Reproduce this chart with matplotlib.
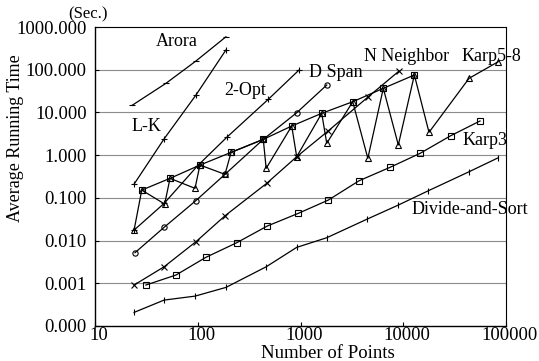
import numpy as np
import matplotlib
matplotlib.use('Agg')
import matplotlib.pyplot as plt
from matplotlib.ticker import FuncFormatter, FixedLocator, NullLocator
from matplotlib.transforms import ScaledTranslation

plt.rcParams['font.family'] = ['Liberation Serif', 'DejaVu Serif']

# data (x = number of points, y = seconds)
arora_x = [23, 49, 96, 188]
arora_y = [14.7, 48, 160, 590]

lk_x = [24, 47, 96, 188]
lk_y = [0.21, 2.4, 25.5, 290]

opt2_x = [24, 47, 100, 191, 486, 966]
opt2_y = [0.0176, 0.074, 0.57, 2.6, 20.3, 98]

dspan_x = [24.5, 47, 95.5, 184, 434, 918, 1800]
dspan_y = [0.0052, 0.0204, 0.0855, 0.355, 2.34, 9.84, 43.8]

nn_x = [24, 47, 96, 184, 469, 918, 1853, 4540, 9090]
nn_y = [0.00091, 0.00243, 0.0094, 0.038, 0.219, 0.918, 3.66, 23, 93]

# Karp5-8: upper points (joined by the smooth line) and lower points
karp_hi_x = [28.5, 53.7, 105, 211, 434, 821, 1608, 3222, 6394, 12820]
karp_hi_y = [0.152, 0.286, 0.586, 1.16, 2.34, 4.8, 9.53, 17.8, 36.7, 75.2]
karp_lo_x = [24, 47.6, 94, 184, 463, 918, 1800, 4520, 8950, 17800, 43700, 84000]
karp_lo_y = [0.0176, 0.0716, 0.167, 0.355, 0.491, 0.918, 1.89, 0.841, 1.73, 3.42, 62.9, 154]

karp3_x = [31.3, 61.4, 120, 239, 475, 952, 1866, 3710, 7430, 14560, 28970, 55850]
karp3_y = [0.00091, 0.00156, 0.00405, 0.00888, 0.0219, 0.0434, 0.0888, 0.251, 0.518, 1.10, 2.85, 6.3]

ds_x = [24, 47, 94, 188, 463, 918, 1799, 4467, 8954, 17540, 43650, 84140]
ds_y = [0.000208, 0.000404, 0.0005, 0.0008, 0.00243, 0.00693, 0.01164, 0.0319, 0.0678, 0.1466, 0.408, 0.869]

xticks = [10, 100, 1000, 10000, 100000]
yticks = [0.0001, 0.001, 0.01, 0.1, 1, 10, 100, 1000]

fig = plt.figure(figsize=(5.39, 3.61), dpi=100)
ax = fig.add_axes([0.1763, 0.097, 0.7625, 0.8282])
ax.set_xscale('log')
ax.set_yscale('log')
ax.set_xlim(10, 100000)
ax.set_ylim(0.0001, 1000)

for y in yticks[1:-1]:
    ax.axhline(y, color='#8c8c8c', lw=0.8, zorder=0)

kw = dict(color='black', lw=0.9, ms=3.8, mew=0.8, mfc='none')
ax.plot(arora_x, arora_y, marker='_', **kw)
ax.plot(lk_x, lk_y, marker='+', **kw)
ax.plot(opt2_x, opt2_y, marker='+', **kw)
ax.plot(dspan_x, dspan_y, marker='o', **kw)
ax.plot(nn_x, nn_y, marker='x', **kw)

# zigzag through all Karp5-8 points, plus the line through the upper ones
zz = sorted(zip(karp_hi_x + karp_lo_x, karp_hi_y + karp_lo_y))
ax.plot([p[0] for p in zz], [p[1] for p in zz], marker='^', **kw)
ax.plot(karp_hi_x, karp_hi_y, marker='s', **kw)

ax.plot(karp3_x, karp3_y, marker='s', **kw)
ax.plot(ds_x, ds_y, marker='|', **kw)

# series names
fs = 13
ax.text(63, 470, 'Arora', fontsize=fs, ha='center', va='center')
ax.text(32, 4.8, 'L-K', fontsize=fs, ha='center', va='center')
ax.text(288, 33.5, '2-Opt', fontsize=fs, ha='center', va='center')
ax.text(2213, 84, 'D Span', fontsize=fs, ha='center', va='center')
ax.text(10870, 209, 'N Neighbor', fontsize=fs, ha='center', va='center')
ax.text(71450, 209, 'Karp5-8', fontsize=fs, ha='center', va='center')
ax.text(62500, 2.26, 'Karp3', fontsize=fs, ha='center', va='center')
ax.text(44700, 0.0547, 'Divide-and-Sort', fontsize=fs, ha='center', va='center')

ax.xaxis.set_major_locator(FixedLocator(xticks))
ax.xaxis.set_minor_locator(NullLocator())
ax.yaxis.set_major_locator(FixedLocator(yticks))
ax.yaxis.set_minor_locator(NullLocator())
ax.xaxis.set_major_formatter(FuncFormatter(lambda v, p: '%d' % round(v)))
ax.yaxis.set_major_formatter(FuncFormatter(lambda v, p: '%.3f' % v))
ax.tick_params(direction='in', length=3, labelsize=13.5)
ax.tick_params(axis='y', pad=6)
ax.tick_params(axis='x', pad=1)
# x tick labels sit a bit right of their ticks in the original
for lab in ax.get_xticklabels():
    lab.set_transform(lab.get_transform() + ScaledTranslation(4 / 100, 0, fig.dpi_scale_trans))

for s in ['top', 'right']:
    ax.spines[s].set_linestyle((0, (2, 1)))
    ax.spines[s].set_linewidth(0.8)
for s in ['left', 'bottom']:
    ax.spines[s].set_linewidth(1.0)

ax.set_xlabel('Number of Points', fontsize=13.5)
ax.xaxis.set_label_coords((328 - 95) / 411, -(354 - 326) / 299)
ax.xaxis.label.set_va('center')
ax.set_ylabel('Average Running Time', fontsize=13)
ax.yaxis.set_label_coords((15 - 95) / 411, (326 - 138) / 299)
ax.yaxis.label.set_va('center')
fig.text(88 / 539, 1 - 14 / 361, '(Sec.)', fontsize=12, ha='center', va='center')

fig.savefig('out.png', dpi=100)
